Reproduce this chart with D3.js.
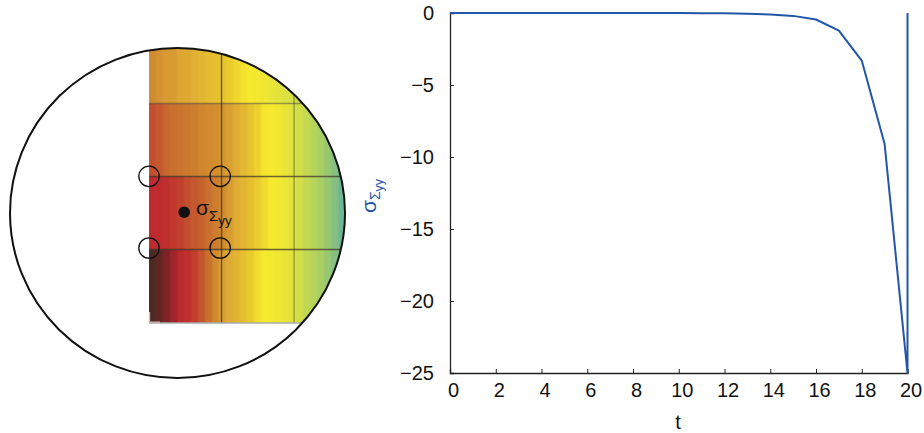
<!DOCTYPE html>
<html>
<head>
<meta charset="utf-8">
<script src="https://cdn.jsdelivr.net/npm/d3@7"></script>
<style>
  html, body { margin: 0; padding: 0; background: #fff; }
  svg { display: block; }
  text { font-family: "Liberation Sans", sans-serif; fill: #111; }
</style>
</head>
<body>
<svg id="svg-chart" width="924" height="433"></svg>
<script>
//////////////////////////////////////////////////////////////////////////////////////////
// Data
//////////////////////////////////////////////////////////////////////////////////////////

// right plot: stress against time
var t_values = [0, 2, 4, 6, 8, 10, 11, 12, 13, 14, 15, 16, 17, 18, 19, 20, 20]
var stress_values = [0, 0, 0, 0, 0, 0, -0.01, -0.02, -0.05, -0.1, -0.2, -0.45, -1.23, -3.3, -9.1, -25, 0]
var t_ticks = [0, 2, 4, 6, 8, 10, 12, 14, 16, 18, 20]
var stress_ticks = [0, -5, -10, -15, -20, -25]

// left plot: mesh in cross-section coordinates (section radius = 1)
var mesh_x = [-0.17, 0.263, 0.696]
var mesh_y = [0.664, 0.221, -0.221, -0.667]
var row_tops = [1, 0.664, 0.221, -0.221]
var gauge_x = [-0.17, 0.255]
var gauge_y = [0.222, -0.212]
var probe = [0.04, 0.005]

// heat values read per strip, left to right, one list per mesh row
var heat_rows = [
  [.46, .48, .5, .5, .53, .53, .55, .56, .58, .59, .6, .62, .65, .68, .7, .71, .72, .74, .76, .78, .8, .82, .84, .87, .9, .92, .95, 1],
  [.33, .35, .38, .4, .41, .42, .43, .45, .46, .47, .49, .51, .54, .57, .6, .64, .69, .7, .71, .74, .78, .81, .84, .87, .9, .93, .96, 1],
  [.25, .25, .26, .28, .3, .33, .35, .37, .4, .43, .46, .5, .54, .56, .59, .62, .66, .7, .71, .73, .77, .81, .84, .87, .9, .93, .96, 1],
  [.0, .04, .1, .17, .24, .26, .29, .34, .4, .46, .51, .54, .56, .59, .62, .67, .7, .71, .72, .74, .77, .81, .85, .87, .9, .93, .96, 1]
]
var heat_stops = [0, 0.12, 0.25, 0.4, 0.55, 0.7, 0.8, 0.9, 1]
var heat_colors = ['#4b2a22', '#8a2329', '#bf2a2f', '#c8702f', '#e0b030', '#f6e92e', '#d6e044', '#a9cf64', '#6fb593']

var line_color = '#2356a6'

//////////////////////////////////////////////////////////////////////////////////////////
// Draw
//////////////////////////////////////////////////////////////////////////////////////////

var svg = d3.select('#svg-chart')

gen_section_plot()
gen_stress_plot()

function gen_section_plot() {
  var g = svg.append('g').attr('id', 'g-section')
  var sx = d3.scaleLinear().domain([-1, 1]).range([10, 345])
  var sy = d3.scaleLinear().domain([1, -1]).range([48, 378])
  var color = d3.scaleLinear().domain(heat_stops).range(heat_colors)
  var strips = d3.scaleBand()
    .domain(d3.range(heat_rows[0].length))
    .range([sx(-0.17), sx(1)])

  var rx = sx(1) - sx(0)
  var ry = sy(-1) - sy(0)

  g.append('clipPath')
    .attr('id', 'clip-section')
    .append('ellipse')
    .attr('cx', sx(0))
    .attr('cy', sy(0))
    .attr('rx', rx)
    .attr('ry', ry)

  // Mesh box, keeps the blur from fading the outer edges of the strips
  g.append('clipPath')
    .attr('id', 'clip-mesh')
    .append('rect')
    .attr('x', sx(mesh_x[0]))
    .attr('y', sy(1))
    .attr('width', sx(1) - sx(mesh_x[0]))
    .attr('height', sy(mesh_y[3]) - sy(1))

  // Soften the strips a little, the reference is a scanned raster
  var blur = g.append('filter')
    .attr('id', 'soft')
    .attr('filterUnits', 'userSpaceOnUse')
    .attr('x', 140)
    .attr('y', 40)
    .attr('width', 220)
    .attr('height', 300)
  blur.append('feGaussianBlur').attr('stdDeviation', '1.1 0.4')

  // Heat strips, the first and last rows run past the box so the blur stays inside
  var heat = g.append('g')
    .attr('clip-path', 'url(#clip-section)')
    .append('g')
    .attr('clip-path', 'url(#clip-mesh)')
    .append('g')
    .attr('filter', 'url(#soft)')
  heat_rows.forEach(function(row, i) {
    heat.selectAll('.strip-' + i)
      .data(row)
      .enter()
      .append('rect')
      .attr('class', 'strip-' + i)
      .attr('x', function(d, j) { return j == 0 ? strips(j) - 5 : strips(j) })
      .attr('y', i == 0 ? sy(row_tops[i]) - 5 : sy(row_tops[i]))
      .attr('width', function(d, j) { return strips.bandwidth() + (j == 0 ? 5.5 : 0.5) })
      .attr('height', sy(mesh_y[i]) - sy(row_tops[i]) + (i == 0 || i == 3 ? 5 : 0))
      .attr('fill', function(d) { return color(d) })
  })

  // Mesh lines
  var mesh = g.append('g').attr('clip-path', 'url(#clip-section)')
  mesh.selectAll('.mesh-v')
    .data(mesh_x.slice(1))
    .enter()
    .append('line')
    .attr('x1', function(d) { return sx(d) })
    .attr('x2', function(d) { return sx(d) })
    .attr('y1', function(d, i) { return i == 0 ? sy(1) : sy(mesh_y[0]) - 12 })
    .attr('y2', sy(mesh_y[3]))
    .attr('stroke', function(d, i) { return i == 0 ? '#3a3018' : '#5a5a30' })
    .attr('stroke-opacity', function(d, i) { return i == 0 ? 0.75 : 0.55 })
    .attr('stroke-width', 1.4)
  mesh.selectAll('.mesh-h')
    .data(mesh_y)
    .enter()
    .append('line')
    .attr('x1', sx(mesh_x[0]))
    .attr('x2', sx(1))
    .attr('y1', function(d) { return sy(d) })
    .attr('y2', function(d) { return sy(d) })
    .attr('stroke', function(d, i) { return i == 3 ? '#aaa' : '#33281a' })
    .attr('stroke-opacity', function(d, i) { return i == 0 ? 0.45 : i == 3 ? 1 : 0.7 })
    .attr('stroke-width', 1.4)

  // Pale corner mark left at the bottom of the mesh
  g.append('path')
    .attr('d', d3.line()([
      [sx(mesh_x[0]) + 0.5, sy(mesh_y[3]) - 11],
      [sx(mesh_x[0]) + 0.5, sy(mesh_y[3]) - 1],
      [sx(mesh_x[0]) + 11, sy(mesh_y[3]) - 1]
    ]))
    .attr('fill', 'none')
    .attr('stroke', '#d8b8b8')
    .attr('stroke-width', 1.3)

  // Section outline
  g.append('ellipse')
    .attr('cx', sx(0))
    .attr('cy', sy(0))
    .attr('rx', rx)
    .attr('ry', ry)
    .attr('fill', 'none')
    .attr('stroke', '#111')
    .attr('stroke-width', 2)

  // Gauge circles
  gauge_x.forEach(function(x) {
    g.selectAll(null)
      .data(gauge_y)
      .enter()
      .append('circle')
      .attr('cx', sx(x))
      .attr('cy', function(d) { return sy(d) })
      .attr('r', 10.2)
      .attr('fill', 'none')
      .attr('stroke', '#111')
      .attr('stroke-width', 1.3)
  })

  // Probe point and label
  g.append('circle')
    .attr('cx', sx(probe[0]))
    .attr('cy', sy(probe[1]))
    .attr('r', 5.8)
    .attr('fill', '#111')

  var label = g.append('text')
    .attr('x', 196)
    .attr('y', 215)
    .style('font-size', '21px')
  label.append('tspan').text('σ')
  label.append('tspan')
    .attr('dy', 6)
    .style('font-size', '15px')
    .text('Σ')
  label.append('tspan')
    .attr('dy', 4)
    .style('font-size', '13.5px')
    .text('yy')
}

function gen_stress_plot() {
  var g = svg.append('g').attr('id', 'g-stress')
  var x = d3.scaleLinear().domain([0, 20]).range([450, 907.5])
  var y = d3.scaleLinear().domain([-25, 0]).range([373, 13])

  var x_axis = d3.axisBottom(x)
    .tickValues(t_ticks)
    .tickSize(-4)
    .tickPadding(10)
    .tickFormat(d3.format('d'))
  var y_axis = d3.axisLeft(y)
    .tickValues(stress_ticks)
    .tickSize(-4)
    .tickPadding(16)
    .tickFormat(function(d) { return d < 0 ? '\u2212' + (-d) : d })

  var gx = g.append('g').attr('transform', 'translate(0,373)').call(x_axis)
  var gy = g.append('g').attr('transform', 'translate(450,0)').call(y_axis)

  ;[gx, gy].forEach(function(a) {
    a.select('.domain').attr('stroke', '#222').attr('stroke-width', 1.3)
    a.selectAll('.tick line').attr('stroke', '#222').attr('stroke-width', 1)
    a.selectAll('.tick text')
      .style('font-family', '"Liberation Sans", sans-serif')
      .style('font-size', '20px')
      .attr('fill', '#111')
  })
  gx.selectAll('.tick text').attr('dx', 3)

  g.append('text')
    .attr('x', 678)
    .attr('y', 429)
    .attr('text-anchor', 'middle')
    .style('font-size', '20px')
    .text('t')

  // Curve
  var line = d3.line()
    .x(function(d) { return x(d[0]) })
    .y(function(d) { return y(d[1]) })
  g.append('path')
    .datum(d3.zip(t_values, stress_values))
    .attr('d', line)
    .attr('fill', 'none')
    .attr('stroke', line_color)
    .attr('stroke-width', 2)
    .attr('stroke-linejoin', 'round')

  // Rotated axis title
  var title = g.append('text')
    .attr('transform', 'translate(376,213) rotate(-90)')
    .style('fill', line_color)
    .style('font-size', '21px')
  title.append('tspan').style('fill', line_color).text('σ')
  title.append('tspan')
    .attr('dy', 4)
    .style('fill', line_color)
    .style('font-size', '14px')
    .text('Σ')
  title.append('tspan')
    .attr('dy', 3)
    .style('fill', line_color)
    .style('font-size', '12.5px')
    .text('yy')
}
</script>
</body>
</html>
